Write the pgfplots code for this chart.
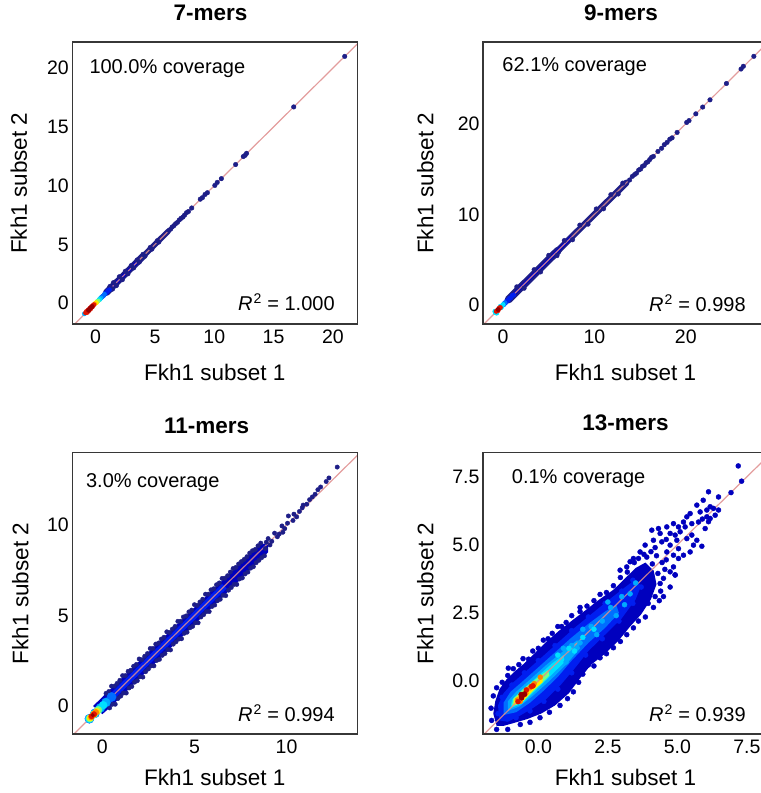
\documentclass[border=0pt]{standalone}
\usepackage{fontspec}
\setmainfont{Liberation Sans}
\usepackage{pgfplots}
\pgfplotsset{compat=1.18}
\definecolor{c0}{RGB}{30,30,135}
\definecolor{c1}{RGB}{0,0,190}
\definecolor{c2}{RGB}{0,30,240}
\definecolor{c3}{RGB}{0,110,255}
\definecolor{c4}{RGB}{0,170,255}
\definecolor{c5}{RGB}{0,225,255}
\definecolor{c6}{RGB}{120,255,130}
\definecolor{c7}{RGB}{255,235,0}
\definecolor{c8}{RGB}{255,130,0}
\definecolor{c9}{RGB}{225,20,0}
\definecolor{c10}{RGB}{150,0,0}
\definecolor{diag}{RGB}{222,140,140}
\definecolor{frame}{RGB}{55,55,55}
\newcommand\tickfont{\fontsize{19.5bp}{23bp}\selectfont}
\newcommand\labfont{\fontsize{22.5bp}{26bp}\selectfont}
\newcommand\titfont{\fontsize{22.5bp}{26bp}\selectfont\bfseries}
\newcommand\annfont{\fontsize{20bp}{24bp}\selectfont}
\pgfplotsset{
  panel/.style={
    width=285bp, height=281.7bp, scale only axis, anchor=south west,
    axis on top=true,
    axis line style={draw=frame, line width=1.6bp},
    major tick length=0pt,
    tick label style={font=\tickfont},
    /pgf/number format/assume math mode=true,
    xlabel={Fkh1 subset 1}, ylabel={Fkh1 subset 2},
    label style={font=\labfont, inner sep=0pt},
    title style={font=\titfont, anchor=base, inner sep=0pt},
    xticklabel style={yshift=-2.5bp},
    xlabel style={at={(axis description cs:0.5,-0.199)}, anchor=base},
  },
  pts/.style={only marks, mark=*, mark size=#1},
  pts/.default=2.2bp,
  band/.style={mark=none, line width=#1, line cap=round},
  diagline/.style={diag, line width=1.2bp, opacity=0.85, mark=none},
}
\begin{document}
\begin{tikzpicture}
%% ---------------- 7-mers
\begin{axis}[panel, at={(72.3bp,469bp)},
  xmin=-1.97, xmax=22.06, ymin=-1.77, ymax=22.2,
  xtick={0,5,10,15,20}, ytick={0,5,10,15,20},
  title={7-mers}, title style={at={(axis description cs:0.485,1.055)}},
  ylabel style={at={(axis description cs:-0.159,0.5)}, anchor=base}]
\addplot[band=6.8bp, c0] coordinates {(0.9,0.9) (4.0,4.0)};
\addplot[band=5.6bp, c0] coordinates {(4.0,4.0) (6.1,6.1)};
\addplot[pts=2.3bp, c0] coordinates {
(21.0,21.0) (16.7,16.7) (12.72,12.75) (12.6,12.58) (12.45,12.48) (11.8,11.8)
(10.6,10.6) (10.25,10.28) (10.05,10.02) (9.42,9.4) (9.22,9.25) (9.0,8.98)
(8.82,8.85) (8.1,8.1) (7.82,7.8) (7.66,7.7) (7.5,7.5) (7.36,7.33) (7.2,7.22)
(7.05,7.08) (6.9,6.88) (6.74,6.76) (6.6,6.6) (6.45,6.48) (6.32,6.3) (6.18,6.2)
(1.5,1.75) (1.75,1.5) (2.0,2.25) (2.25,2.0) (2.5,2.72) (2.72,2.5) (3.0,3.2)
(3.2,3.0) (3.5,3.68) (3.68,3.5) (4.0,4.16) (4.16,4.0) (4.6,4.74) (4.74,4.6)
(5.2,5.32) (5.32,5.2) (1.2,1.42) (1.42,1.2)
};
\addplot[band=3.6bp, c1] coordinates {(0.7,0.7) (3.6,3.6)};
\addplot[pts, c2] coordinates {
(0.55,0.55) (0.68,0.66) (0.8,0.82) (0.92,0.9) (1.04,1.06) (1.16,1.14)};
\addplot[pts, c3] coordinates {(0.5,0.52) (0.62,0.6) (0.74,0.76)};
\addplot[pts, c4] coordinates {(0.38,0.4) (0.45,0.43) (-0.95,-0.9)};
\addplot[pts, c5] coordinates {(0.28,0.3) (0.33,0.3)};
\addplot[pts, c6] coordinates {(0.12,0.14) (0.2,0.18)};
\addplot[pts, c7] coordinates {(0.0,0.02) (0.06,0.04)};
\addplot[pts, c8] coordinates {(-0.1,-0.08)};
\addplot[pts, c9] coordinates {
(-0.85,-0.82) (-0.78,-0.7) (-0.7,-0.78) (-0.62,-0.56) (-0.55,-0.62) (-0.5,-0.45)
(-0.42,-0.48) (-0.36,-0.3) (-0.28,-0.32) (-0.22,-0.18) (-0.16,-0.14)};
\addplot[pts, c10] coordinates {(-0.6,-0.6) (-0.45,-0.42) (-0.3,-0.28)};
\addplot[diagline] coordinates {(-5,-5) (40,40)};
\node[anchor=base west, font=\annfont] at (rel axis cs:0.048,0.89) {100.0\% coverage};
\node[anchor=base east, font=\annfont] at (rel axis cs:0.933,0.047) {\textit{R}\kern1bp\textsuperscript{2} = 1.000};
\end{axis}
%% ---------------- 9-mers
\begin{axis}[panel, at={(483bp,469bp)},
  xmin=-2.2, xmax=29.0, ymin=-2.1, ymax=29.0,
  xtick={0,10,20}, ytick={0,10,20},
  title={9-mers}, title style={at={(axis description cs:0.484,1.055)}},
  ylabel style={at={(axis description cs:-0.174,0.5)}, anchor=base}]
\addplot[band=7.8bp, c0] coordinates {(0.6,0.6) (6.0,6.0)};
\addplot[band=6.3bp, c0] coordinates {(6.0,6.0) (13.5,13.5)};
\addplot[pts=2.3bp, c0] coordinates {
(27.45,27.45) (26.3,26.35) (26.05,26.05) (24.45,24.45) (22.65,22.65) (21.85,21.85)
(21.1,21.1) (20.35,20.35) (20.1,20.15) (19.05,19.05) (18.5,18.45) (18.25,18.3)
(17.95,17.95) (17.65,17.7) (17.35,17.3) (16.95,16.95) (16.45,16.4) (16.25,16.3)
(16.05,16.05) (15.85,15.8) (15.65,15.7) (15.45,15.4) (15.25,15.3) (15.05,15.0)
(14.85,14.9) (14.6,14.55) (14.4,14.4) (14.15,14.2) (13.85,13.8)
(1.5,2.0) (2.3,1.85) (3.4,3.9) (4.1,3.65) (5.0,5.48) (5.9,5.45) (6.7,7.12)
(7.6,7.2) (8.4,8.82) (9.3,8.92) (10.2,10.6) (11.0,10.62) (11.8,12.18) (12.6,12.25)
(13.1,13.45)
};
\addplot[band=3.4bp, c1] coordinates {(0.6,0.6) (7.5,7.5)};
\addplot[pts, c2] coordinates {
(0.1,0.15) (0.25,0.2) (0.4,0.45) (0.55,0.5) (0.7,0.75) (0.85,0.8) (1.0,1.05) (1.15,1.1)};
\addplot[pts, c3] coordinates {(0.05,0.0) (0.2,0.25)};
\addplot[pts, c5] coordinates {
(-0.85,-0.85) (-0.9,-0.7) (-0.7,-0.9) (-0.15,-0.1) (-0.2,-0.3) (-0.3,-0.15) (0,0.05)};
\addplot[pts, c9] coordinates {
(-0.75,-0.7) (-0.6,-0.55) (-0.45,-0.4) (-0.3,-0.28) (-0.55,-0.62) (-0.4,-0.32)};
\addplot[pts, c10] coordinates {(-0.55,-0.5)};
\addplot[diagline] coordinates {(-5,-5) (40,40)};
\node[anchor=base west, font=\annfont] at (rel axis cs:0.056,0.896) {62.1\% coverage};
\node[anchor=base east, font=\annfont] at (rel axis cs:0.934,0.044) {\textit{R}\kern1bp\textsuperscript{2} = 0.998};
\end{axis}
%% ---------------- 11-mers
\begin{axis}[panel, at={(72.3bp,58.7bp)},
  xmin=-1.63, xmax=13.84, ymin=-1.56, ymax=14.0,
  xtick={0,5,10}, ytick={0,5,10},
  title={11-mers}, title style={at={(axis description cs:0.471,1.048)}},
  xlabel style={at={(axis description cs:0.5,-0.183)}},
  ylabel style={at={(axis description cs:-0.154,0.5)}, anchor=base}]
\addplot[pts, c0] coordinates {
(12.75,13.2) (12.3,12.6) (12.15,12.4) (11.85,12.1) (11.7,11.95) (11.55,11.7)
(11.4,11.55) (11.25,11.4) (11.1,11.15) (10.9,11.1) (10.85,10.95) (10.7,10.75)
(10.55,10.45) (10.4,10.6) (10.35,10.25) (10.1,10.5) (10.05,10.1) (9.9,9.8)
(9.8,9.6) (9.75,9.95) (9.6,9.5) (9.5,9.35) (9.35,9.55) (9.2,9.1) (9.1,8.9)
(9.0,9.25) (8.85,8.7) (8.9,9.05)
(0.2,0.7) (0.5,1.1) (0.8,1.25) (1.1,1.68) (1.4,1.92) (1.7,2.2) (2.0,2.6) (2.3,2.75)
(2.6,3.18) (2.9,3.42) (3.2,3.7) (3.5,4.1) (3.8,4.25) (4.1,4.68) (4.4,4.92) (4.7,5.2)
(5.0,5.6) (5.3,5.75) (5.6,6.18) (5.9,6.42) (6.2,6.7) (6.5,7.05) (6.8,7.2) (7.1,7.6)
(7.4,7.85) (7.7,8.1) (8.0,8.45) (8.3,8.65) (8.6,9.0)
(0.35,0.8) (0.65,1.1) (0.95,1.42) (1.25,1.68) (1.55,1.98) (1.85,2.3) (2.15,2.56)
(2.45,2.9) (2.75,3.18) (3.05,3.48) (3.35,3.8) (3.65,4.06) (3.95,4.4) (4.25,4.68)
(4.55,4.98) (4.85,5.3) (5.15,5.56) (5.45,5.9) (5.75,6.18) (6.05,6.48) (6.35,6.8)
(6.65,7.06) (6.95,7.4) (7.25,7.66) (7.55,7.98) (7.85,8.25) (8.15,8.58) (8.45,8.85)
(0.4,-0.1) (0.7,0.1) (1.0,0.55) (1.3,0.72) (1.6,1.08) (1.9,1.4) (2.2,1.6) (2.5,2.05)
(2.8,2.22) (3.1,2.58) (3.4,2.9) (3.7,3.1) (4.0,3.55) (4.3,3.72) (4.6,4.08) (4.9,4.4)
(5.2,4.6) (5.5,5.05) (5.8,5.22) (6.1,5.58) (6.4,5.9) (6.7,6.1) (7.0,6.55) (7.3,6.72)
(7.6,7.08) (7.9,7.4) (8.2,7.7) (8.5,8.05) (8.8,8.3)
(0.55,0.1) (0.85,0.42) (1.15,0.72) (1.45,1.0) (1.75,1.32) (2.05,1.62) (2.35,1.9)
(2.65,2.22) (2.95,2.52) (3.25,2.8) (3.55,3.12) (3.85,3.42) (4.15,3.7) (4.45,4.02)
(4.75,4.32) (5.05,4.6) (5.35,4.92) (5.65,5.22) (5.95,5.5) (6.25,5.82) (6.55,6.12)
(6.85,6.4) (7.15,6.72) (7.45,7.02) (7.75,7.3) (8.05,7.62) (8.35,7.92) (8.65,8.2)
};
\addplot[fill=c1, draw=none] coordinates {
(-0.5,0.0) (0.0,0.5) (8.6,9.0) (9.0,8.9) (9.0,8.5) (0.5,0.0) (0.0,-0.45)};
\addplot[fill=c2, draw=none] coordinates {
(-0.2,0.1) (0.0,0.25) (6.5,6.75) (6.75,6.5) (0.25,0.0) (0.1,-0.2)};
\addplot[pts=4.6bp, c3] coordinates {
(-0.7,-0.7) (-0.4,-0.4) (-0.1,-0.1) (0.2,0.2) (0.5,0.5)};
\addplot[pts=4.2bp, c4] coordinates {
(-0.7,-0.7) (-0.4,-0.4) (-0.1,-0.1) (0.2,0.2)};
\addplot[pts=3.9bp, c5] coordinates {
(-0.7,-0.7) (-0.45,-0.45) (-0.2,-0.2) (0.05,0.05)};
\addplot[pts=3.6bp, c6] coordinates {(-0.68,-0.68) (-0.45,-0.45) (-0.22,-0.22)};
\addplot[pts=3.3bp, c7] coordinates {(-0.65,-0.65) (-0.45,-0.45) (-0.3,-0.3)};
\addplot[pts=3bp, c8] coordinates {(-0.6,-0.6) (-0.45,-0.45) (-0.35,-0.35)};
\addplot[pts=2.7bp, c9] coordinates {(-0.58,-0.56) (-0.45,-0.45)};
\addplot[pts=1.8bp, c10] coordinates {(-0.52,-0.5)};
\addplot[diagline] coordinates {(-5,-5) (40,40)};
\node[anchor=base west, font=\annfont] at (rel axis cs:0.036,0.877) {3.0\% coverage};
\node[anchor=base east, font=\annfont] at (rel axis cs:0.933,0.045) {\textit{R}\kern1bp\textsuperscript{2} = 0.994};
\end{axis}
%% ---------------- 13-mers
\begin{axis}[panel, at={(483bp,58.7bp)},
  xmin=-1.99, xmax=8.26, ymin=-1.96, ymax=8.39,
  xtick={0,2.5,5,7.5}, ytick={0,2.5,5,7.5},
  xticklabels={0.0,2.5,5.0,7.5}, yticklabels={0.0,2.5,5.0,7.5},
  title={13-mers}, title style={at={(axis description cs:0.5,1.057)}},
  xlabel style={at={(axis description cs:0.5,-0.183)}},
  ylabel style={at={(axis description cs:-0.174,0.5)}, anchor=base}]
\addplot[pts=2.5bp, c1] coordinates {
(7.19,7.9) (7.31,7.34) (6.93,6.92) (6.48,6.76) (6.12,6.95) (5.93,6.64) (5.7,6.46)
(5.82,6.21) (6.06,6.28) (6.18,6.4) (6.3,6.34) (6.36,6.09) (6.48,6.28) (6.06,6.03)
(5.46,6.15) (5.34,6.03) (5.52,5.78) (5.76,5.84) (5.28,5.66) (6.18,5.97) (6.12,5.85)
(5.88,4.95) (4.86,5.78) (5.04,5.66) (5.22,5.84) (4.62,5.66) (4.32,5.6) (4.08,5.54)
(4.38,5.42) (4.74,5.42) (4.92,5.36) (5.1,5.48) (4.98,5.17) (5.34,5.23) (5.52,5.36)
(5.58,4.99) (5.7,5.17) (5.46,4.74) (5.22,4.62) (5.04,4.86) (4.74,4.99) (3.84,4.99)
(3.66,4.74) (4.14,5.17) (4.44,5.11) (4.62,4.74) (4.86,4.62) (5.04,4.5) (4.86,4.19)
(4.74,4.01) (4.92,3.89) (4.5,3.77) (4.38,3.58) (3.3,4.38) (3.42,4.5) (2.94,4.07)
(3.18,4.19) (6.0,5.6) (5.9,5.95) (4.6,5.2) (4.2,4.9) (4.45,4.35) (4.25,4.6)
(4.05,4.75) (4.6,4.45) (4.3,3.95) (4.1,4.3) (3.9,4.55) (4.55,4.1) (4.4,3.3)
(4.2,3.1) (3.95,2.85) (3.8,4.65) (3.6,4.5)
(-1.68,-1.45) (-1.7,-1.0) (-1.62,-0.55) (-1.5,-0.25) (-1.3,-0.05) (-1.1,0.2)
(-1.08,0.47) (-0.9,0.45) (-0.7,0.6) (-0.55,0.82) (-0.35,0.8) (-0.2,1.1) (0.0,1.2)
(0.18,1.5) (0.35,1.55) (0.5,1.75) (0.7,2.0) (0.84,2.0) (1.0,2.15) (1.2,2.4)
(1.5,2.55) (1.5,2.7) (1.75,2.75) (2.0,2.95) (2.22,3.18) (2.45,3.25) (2.7,3.5)
(2.95,3.8) (3.2,4.0) (3.45,4.35)
(-1.5,-1.78) (-1.1,-1.78) (-0.65,-1.6) (-0.3,-1.52) (0.06,-1.35) (0.4,-1.15)
(0.78,-0.9) (1.05,-0.65) (1.26,-0.4) (1.45,-0.05) (1.6,0.25) (1.8,0.59) (2.0,0.55)
(2.22,0.85) (2.45,1.0) (2.7,1.22) (2.95,1.45) (3.18,1.7) (3.42,1.95) (3.6,2.2)
(3.85,2.35) (4.14,2.7) (4.35,2.95) (4.5,3.1) (4.74,3.45) (4.92,3.9)
};
\addplot[fill=c1, draw=none] coordinates {
(-1.5,-1.65) (-1.62,-1.2) (-1.55,-0.75) (-1.4,-0.3) (-1.15,0.05) (-0.85,0.35)
(-0.5,0.65) (-0.1,1.05) (0.3,1.45) (0.75,1.85) (1.25,2.25) (1.7,2.6) (2.2,3.0)
(2.7,3.35) (3.1,3.75) (3.5,4.15) (3.85,4.35) (4.15,4.05) (4.25,3.55)
(4.05,3.0) (3.7,2.45) (3.3,2.0) (2.9,1.5) (2.4,1.0) (1.9,0.6) (1.5,0.1) (1.1,-0.45)
(0.6,-0.9) (0.1,-1.2) (-0.4,-1.4) (-0.9,-1.55) (-1.25,-1.65)};
\addplot[pts=2.5bp, c2] coordinates {
(-1.45,-1.2) (-1.3,-0.6) (-0.95,-0.15) (-0.5,0.3) (0.0,0.75) (0.6,1.3) (1.2,1.85)
(1.8,2.35) (2.4,2.85) (3.0,3.3) (3.4,3.7) (3.7,3.45) (3.4,2.85) (2.9,2.2) (2.3,1.55)
(1.7,0.95) (1.2,0.3) (0.7,-0.3) (0.2,-0.75) (-0.3,-1.1) (-0.8,-1.35)};
\addplot[fill=c2, draw=none] coordinates {
(-1.4,-1.45) (-1.45,-0.9) (-1.25,-0.45) (-0.9,-0.05) (-0.45,0.35) (0.1,0.85)
(0.7,1.4) (1.3,1.95) (1.9,2.45) (2.5,2.95) (3.0,3.35) (3.45,3.7) (3.7,3.5) (3.5,3.0)
(3.0,2.3) (2.4,1.7) (1.8,1.1) (1.3,0.45) (0.8,-0.15) (0.3,-0.65) (-0.2,-1.0)
(-0.7,-1.3) (-1.1,-1.5)};
\addplot[fill=c3, draw=none] coordinates {
(-1.25,-1.25) (-1.25,-0.8) (-1.0,-0.4) (-0.55,0.0) (0.0,0.5) (0.6,1.05) (1.2,1.6)
(1.8,2.1) (2.4,2.55) (2.8,2.8) (2.9,2.5) (2.4,1.95) (1.8,1.4) (1.2,0.75) (0.7,0.15)
(0.2,-0.35) (-0.3,-0.8) (-0.8,-1.15)};
\addplot[pts=2.5bp, c4] coordinates {
(1.2,1.3) (1.5,1.4) (1.9,2.0) (2.3,2.2) (2.6,2.7) (3.0,3.1) (3.3,3.2) (2.1,1.7)
(1.6,1.9) (3.5,3.6) (2.8,2.4) (0.9,1.2) (1.0,0.7) (3.1,2.8) (2.5,2.9)};
\addplot[fill=c4, draw=none] coordinates {
(-1.1,-1.1) (-1.1,-0.75) (-0.8,-0.4) (-0.3,0.05) (0.3,0.6) (0.9,1.1) (1.4,1.5)
(1.5,1.2) (1.0,0.6) (0.4,0.0) (-0.2,-0.55) (-0.7,-0.95)};
\addplot[fill=c5, draw=none] coordinates {
(-1.0,-1.0) (-0.95,-0.7) (-0.6,-0.35) (-0.1,0.1) (0.5,0.65) (0.9,0.95) (0.95,0.7)
(0.45,0.2) (-0.1,-0.35) (-0.6,-0.85)};
\addplot[pts=2.5bp, c5] coordinates {(1.1,1.2) (1.3,1.1) (1.6,1.6) (2.0,1.9) (0.7,0.95)};
\addplot[fill=c6, draw=none] coordinates {
(-0.95,-0.95) (-0.9,-0.65) (-0.55,-0.3) (-0.05,0.1) (0.35,0.4) (0.4,0.2) (0.0,-0.2)
(-0.5,-0.7)};
\addplot[fill=c7, draw=none] coordinates {
(-0.9,-0.9) (-0.85,-0.65) (-0.5,-0.35) (-0.1,-0.05) (0.15,0.1) (0.15,-0.05)
(-0.2,-0.35) (-0.6,-0.8)};
\addplot[pts=2.5bp, c8] coordinates {
(-0.75,-0.7) (-0.6,-0.55) (-0.45,-0.45) (-0.3,-0.25) (-0.15,-0.1) (-0.65,-0.75) (0.07,0.14)};
\addplot[pts=2.5bp, c9] coordinates {
(-0.73,-0.76) (-0.61,-0.58) (-0.5,-0.5) (-0.43,-0.33) (-0.25,-0.2) (-0.19,-0.18)};
\addplot[pts=2.5bp, c10] coordinates {(-0.6,-0.62) (-0.5,-0.48) (-0.62,-0.5)};
\addplot[diagline] coordinates {(-5,-5) (40,40)};
\node[anchor=base west, font=\annfont] at (rel axis cs:0.089,0.891) {0.1\% coverage};
\node[anchor=base east, font=\annfont] at (rel axis cs:0.934,0.045) {\textit{R}\kern1bp\textsuperscript{2} = 0.939};
\end{axis}
\pgfresetboundingbox
\path[use as bounding box] (0,0) rectangle (761bp,793bp);
\end{tikzpicture}
\end{document}
